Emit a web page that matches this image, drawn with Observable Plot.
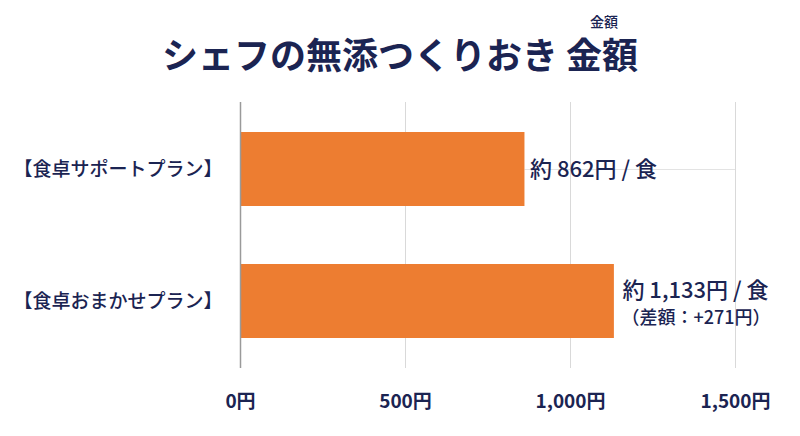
<!DOCTYPE html>
<html><head><meta charset="utf-8">
<script src="https://cdn.jsdelivr.net/npm/d3@7"></script>
<script src="https://cdn.jsdelivr.net/npm/@observablehq/plot@0.6"></script>
<style>
html,body{margin:0;padding:0;background:#fff;}
body{width:800px;height:436px;overflow:hidden;font-family:"Noto Sans CJK JP","Noto Sans",sans-serif;}
#head{position:relative;height:90px;width:800px;}
#title{position:absolute;left:0;width:800px;top:34px;text-align:center;font-size:36px;font-weight:700;color:#1b2452;line-height:38px;}
#ruby{position:absolute;left:590px;top:14px;font-size:14px;font-weight:500;color:#1b2452;line-height:15px;}
</style></head>
<body>
<div id="head"><div id="title">シェフの無添つくりおき 金額</div><div id="ruby">金額</div></div>
<div id="chart"></div>
<script>
const plans = ["【食卓サポートプラン】", "【食卓おまかせプラン】"];
const prices = [862, 1133];
const priceLabels = ["約 862円 / 食", "約 1,133円 / 食"];
const notes = ["", "（差額：+271円）"];
const xTicks = [0, 500, 1000, 1500];
const tickLabels = ["0円", "500円", "1,000円", "1,500円"];

const data = plans.map((p, i) => ({plan: p, price: prices[i], label: priceLabels[i], note: notes[i]}));
const navy = "#1b2452";
const font = "'Noto Sans CJK JP','Noto Sans',sans-serif";

const chart = Plot.plot({
  width: 800,
  height: 346,
  marginTop: 12,
  marginBottom: 68,
  marginLeft: 240,
  marginRight: 65,
  style: {fontFamily: font, background: "#fff", overflow: "visible"},
  x: {domain: [0, 1500], label: null},
  y: {domain: plans, paddingInner: 0.44, paddingOuter: 0.227, label: null},
  marks: [
    Plot.gridX(xTicks.slice(1), {stroke: "#d9d9d9", strokeOpacity: 1, strokeWidth: 1}),
    Plot.ruleY(data.slice(0, 1), {y: "plan", x1: "price", x2: () => 1500, stroke: "#e3e3e3", strokeWidth: 1}),
    Plot.barX(data, {x: "price", y: "plan", fill: "#ED7D31"}),
    Plot.ruleX([0], {stroke: "#9a9a9a", strokeWidth: 1.5}),
    Plot.axisX(xTicks, {tickSize: 0, tickPadding: 26, label: null, tickFormat: (d) => tickLabels[xTicks.indexOf(d)], fontSize: 19, fontWeight: 700, fill: navy}),
    Plot.axisY({tickSize: 0, tickPadding: 18, fontSize: 19, fontWeight: 500, fill: navy, label: null}),
    Plot.text(data.filter(d => d.note === ""), {x: "price", y: "plan", text: "label", textAnchor: "start", dx: 5, fontSize: 22, fontWeight: 500, fill: navy}),
    Plot.text(data.filter(d => d.note !== ""), {x: "price", y: "plan", text: "label", textAnchor: "start", dx: 8, dy: -11, fontSize: 22, fontWeight: 500, fill: navy}),
    Plot.text(data.filter(d => d.note !== ""), {x: "price", y: "plan", text: "note", textAnchor: "start", dx: 7, dy: 17, fontSize: 18, fontWeight: 500, fill: navy})
  ]
});
document.getElementById("chart").appendChild(chart);
</script>
</body></html>
